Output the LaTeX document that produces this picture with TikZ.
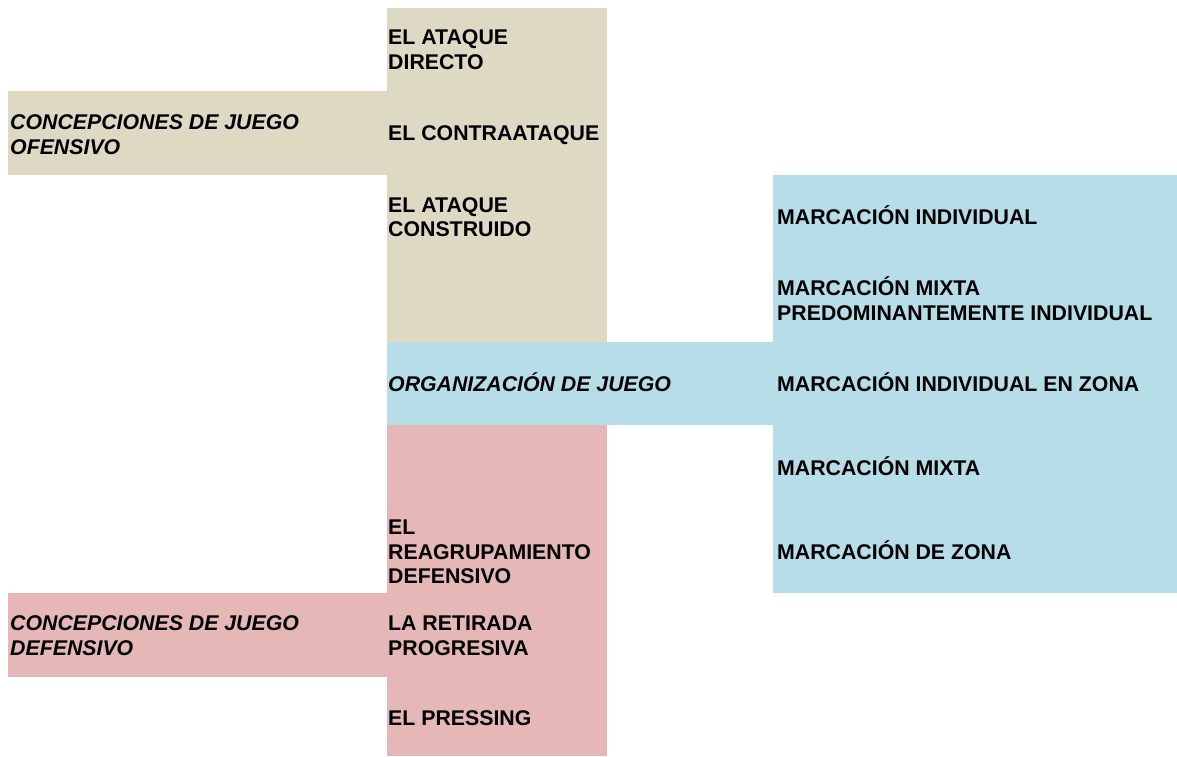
\documentclass[tikz,border=0pt]{standalone}
\usepackage{fontspec}
\setmainfont{Liberation Sans}
\usepackage{tikz}
\definecolor{tanfill}{HTML}{DDD9C3}
\definecolor{aquafill}{HTML}{B7DDE8}
\definecolor{rosefill}{HTML}{E5B8B7}
\def\itemnode{\node[anchor=base west,align=left,inner sep=0pt,font=\fontsize{21.3}{24.5}\selectfont\bfseries]}
\def\conceptnode{\node[anchor=base west,align=left,inner sep=0pt,font=\fontsize{21.3}{24.5}\selectfont\bfseries\itshape]}

\begin{document}
\begin{tikzpicture}[x=1pt,y=-1pt]
\useasboundingbox (0,0) rectangle (1177,756);
% colour blocks
\fill[tanfill] (387,8) rectangle (607,342);
\fill[tanfill] (8,91) rectangle (387,175);
\fill[aquafill] (387,342) rectangle (773,425);
\fill[aquafill] (773,175) rectangle (1177,593);
\fill[rosefill] (387,425) rectangle (607,756);
\fill[rosefill] (8,593) rectangle (387,677);
% ofensivo (base = last line)
\conceptnode (ofens) at (10,154) {CONCEPCIONES DE JUEGO\\OFENSIVO};
\itemnode (directo) at (388,69.1) {EL ATAQUE\\DIRECTO};
\itemnode (contra) at (388,140.6) {EL CONTRAATAQUE};
\itemnode (constr) at (388,236.5) {EL ATAQUE\\CONSTRUIDO};
% organizacion
\conceptnode (organiz) at (388,391.5) {ORGANIZACIÓN DE JUEGO};
\itemnode (indiv) at (777,224) {MARCACIÓN INDIVIDUAL};
\itemnode (mixind) at (777,320.1) {MARCACIÓN MIXTA\\PREDOMINANTEMENTE INDIVIDUAL};
\itemnode (indzona) at (777,391.5) {MARCACIÓN INDIVIDUAL EN ZONA};
\itemnode (mixta) at (777,475.6) {MARCACIÓN MIXTA};
\itemnode (zona) at (777,559) {MARCACIÓN DE ZONA};
% defensivo
\conceptnode (defens) at (10,655.1) {CONCEPCIONES DE JUEGO\\DEFENSIVO};
\itemnode (reagr) at (388,583.5) {EL\\REAGRUPAMIENTO\\DEFENSIVO};
\itemnode (retir) at (388,655.1) {LA RETIRADA\\PROGRESIVA};
\itemnode (press) at (388,725.6) {EL PRESSING};
\end{tikzpicture}
\end{document}
